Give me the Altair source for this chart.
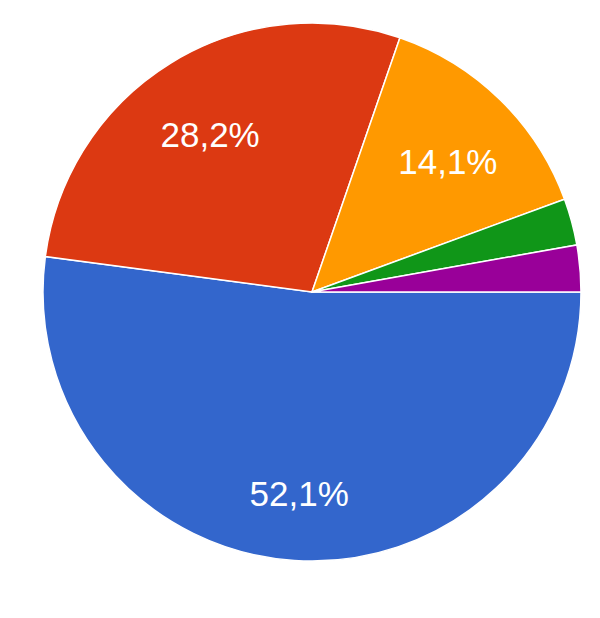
import math
import altair as alt
import pandas as pd

categories = ["A", "B", "C", "D", "E"]
shares = [52.1, 28.2, 14.1, 2.8, 2.8]
colors = ["#3366cc", "#dc3912", "#ff9900", "#109618", "#990099"]

labels = [(f"{v:.1f}%".replace(".", ",") if v >= 5 else "") for v in shares]

df = pd.DataFrame({
    "cat": categories,
    "share": shares,
    "order": list(range(len(categories))),
    "label": labels,
})

theta = alt.Theta("share:Q", stack=True,
                  scale=alt.Scale(range=[math.pi / 2, math.pi / 2 + 2 * math.pi]))
order = alt.Order("order:Q", sort="ascending")

base = alt.Chart(df).encode(
    theta=theta,
    order=order,
    x=alt.value(304),
    y=alt.value(284),
)

arcs = base.mark_arc(radius=269, stroke="white", strokeWidth=1.5).encode(
    color=alt.Color("cat:N", scale=alt.Scale(domain=categories, range=colors), legend=None)
)

text = base.mark_text(radius=194, dy=9, font="Liberation Sans", fontSize=35,
                      color="white", align="center", baseline="middle").encode(
    text="label:N"
)

chart = alt.layer(arcs, text).properties(
    width=584, height=602, padding=0,
    autosize=alt.AutoSizeParams(type="none"),
).configure_view(stroke=None)

chart.save("out.html", embed_options={"renderer": "svg", "actions": False})
